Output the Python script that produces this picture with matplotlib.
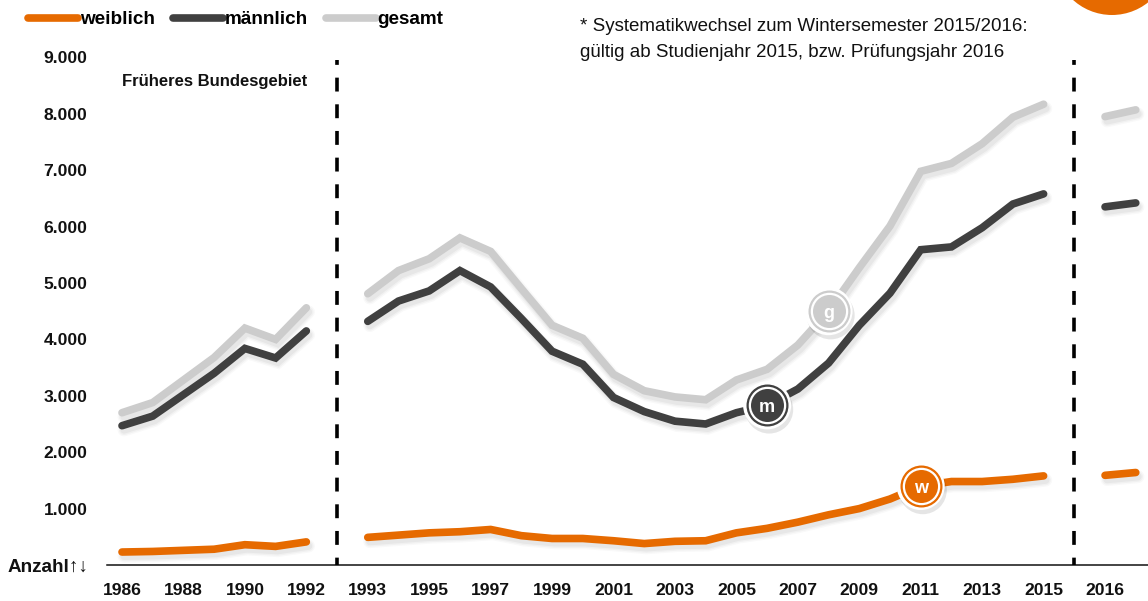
import matplotlib
matplotlib.use("Agg")
import matplotlib.pyplot as plt
import matplotlib.patheffects as pe
from matplotlib.lines import Line2D
from matplotlib.patches import Circle
from matplotlib.transforms import IdentityTransform

plt.rcParams['font.family'] = ['Liberation Sans', 'DejaVu Sans']
plt.rcParams['lines.scale_dashes'] = False

# None marks the gaps between the three periods
years = [1986, 1987, 1988, 1989, 1990, 1991, 1992, None,
         1993, 1994, 1995, 1996, 1997, 1998, 1999, 2000, 2001, 2002, 2003, 2004,
         2005, 2006, 2007, 2008, 2009, 2010, 2011, 2012, 2013, 2014, 2015, None,
         2016, 2017]
gesamt = [2700, 2880, 3280, 3680, 4200, 4000, 4560, None,
          4810, 5220, 5430, 5800, 5560, 4900, 4250, 4020, 3380, 3090, 2980, 2930,
          3280, 3470, 3900, 4500, 5270, 6010, 6980, 7120, 7470, 7940, 8170, None,
          7950, 8070]
maennlich = [2470, 2640, 3020, 3400, 3840, 3670, 4150, None,
             4320, 4680, 4860, 5220, 4930, 4370, 3790, 3560, 2970, 2720, 2550, 2500,
             2700, 2830, 3120, 3580, 4250, 4820, 5590, 5640, 5980, 6400, 6580, None,
             6350, 6420]
weiblich = [230, 240, 260, 280, 360, 330, 410, None,
            490, 530, 570, 590, 630, 520, 470, 470, 430, 380, 420, 430,
            570, 650, 760, 890, 1000, 1170, 1400, 1480, 1480, 1520, 1580, None,
            1590, 1640]
x_labels = [1986, 1988, 1990, 1992, 1993, 1995, 1997, 1999, 2001, 2003, 2005,
            2007, 2009, 2011, 2013, 2015, 2016]
y_ticks = [1000, 2000, 3000, 4000, 5000, 6000, 7000, 8000, 9000]
y_labels = ['1.000', '2.000', '3.000', '4.000', '5.000', '6.000', '7.000', '8.000', '9.000']
break_years = [(1992, 1993), (2015, 2016)]

ORANGE, DARK, LIGHT = '#E66A00', '#404040', '#CCCCCC'
W, H = 1148, 601
PX = 72 / 100

fig = plt.figure(figsize=(W / 100, H / 100), dpi=100)
ax = fig.add_axes([107 / W, (H - 565) / H, (W - 107) / W, 565 / H])
x0 = 122; dx = 30.72; dy = 56.4 / 1000
ax.set_xlim((107 - x0) / dx, (W - x0) / dx)
ax.set_ylim(0, 565 / dy)
ax.patch.set_alpha(0)
for s in ['top', 'right', 'left']:
    ax.spines[s].set_visible(False)
ax.spines['bottom'].set_linewidth(1.1)
ax.spines['bottom'].set_color('#111111')

xs = list(range(len(years)))
pos = {y: i for i, y in enumerate(years) if y is not None}
ax.set_xticks([pos[y] for y in x_labels], [str(y) for y in x_labels])
ax.set_yticks(y_ticks, y_labels)
ax.tick_params(length=0)
ax.tick_params(axis='x', pad=13)
ax.tick_params(axis='y', pad=14)
for t in ax.get_xticklabels() + ax.get_yticklabels():
    t.set_fontsize(12.6)
    t.set_fontweight('bold')
    t.set_color('#111111')

def shadow():
    return [pe.SimpleLineShadow(offset=(1.5, -3), shadow_color='k', alpha=a, linewidth=w)
            for a, w in [(0.025, 9.5), (0.03, 7.5), (0.04, 5.5)]] + [pe.Normal()]

for ser, col, z in [(gesamt, LIGHT, 3), (maennlich, DARK, 4), (weiblich, ORANGE, 5)]:
    vals = [float('nan') if v is None else v for v in ser]
    ax.plot(xs, vals, color=col, lw=5.5, solid_capstyle='round', solid_joinstyle='miter',
            zorder=z, path_effects=shadow())

# Vertical dashed period breaks
for a, b in break_years:
    xp = (pos[a] + pos[b]) / 2
    ax.plot([xp, xp], [8950, 0], color='k', lw=2.6, dash_capstyle='butt',
            linestyle=(6.5, (10, 9.2)), zorder=6, clip_on=False)

# Badges on the lines
for ser, col, year, letter in [(gesamt, LIGHT, 2008, 'g'), (maennlich, DARK, 2006, 'm'),
                               (weiblich, ORANGE, 2011, 'w')]:
    xp, yp = pos[year], ser[pos[year]]
    ax.plot([xp], [yp], 'o', ms=48 * PX, mfc='white', mec='none', zorder=7,
            path_effects=[pe.SimplePatchShadow(offset=(1.5, -3), shadow_rgbFace='k', alpha=0.1),
                          pe.Normal()])
    ax.plot([xp], [yp], 'o', ms=42 * PX, mfc=col, mec='none', zorder=8)
    ax.plot([xp], [yp], 'o', ms=37.5 * PX, mfc='white', mec='none', zorder=9)
    ax.plot([xp], [yp], 'o', ms=33 * PX, mfc=col, mec='none', zorder=10)
    ax.text(xp, yp - 40, letter, color='white', fontsize=13, fontweight='bold',
            ha='center', va='center', zorder=11)

# Legend
handles = [Line2D([], [], color=c, lw=5.5, solid_capstyle='round') for c in (ORANGE, DARK, LIGHT)]
fig.legend(handles, ['weiblich', 'männlich', 'gesamt'], loc='upper left',
           bbox_to_anchor=(28 / W, 1 - 11 / H), ncol=3, frameon=False, borderaxespad=0, borderpad=0,
           handlelength=2.65, handletextpad=0.1, columnspacing=0.95,
           prop={'size': 13.6, 'weight': 'bold'})

def ftext(px, py, s, **kw):
    fig.text(px / W, 1 - py / H, s, color='#111111', va='baseline', **kw)

ftext(122, 86, 'Früheres Bundesgebiet', fontsize=12, fontweight='bold')
ftext(8, 572, 'Anzahl↑↓', fontsize=13.6, fontweight='bold')
ftext(580, 31, '* Systematikwechsel zum Wintersemester 2015/2016:', fontsize=13.5)
ftext(580, 57, 'gültig ab Studienjahr 2015, bzw. Prüfungsjahr 2016', fontsize=13.5)

# Orange corner circle, cut by the top edge (figure pixel coordinates)
fig.add_artist(Circle((1112, H + 43), 58, color=ORANGE, lw=0, transform=IdentityTransform()))

fig.savefig('out.png', dpi=100)
